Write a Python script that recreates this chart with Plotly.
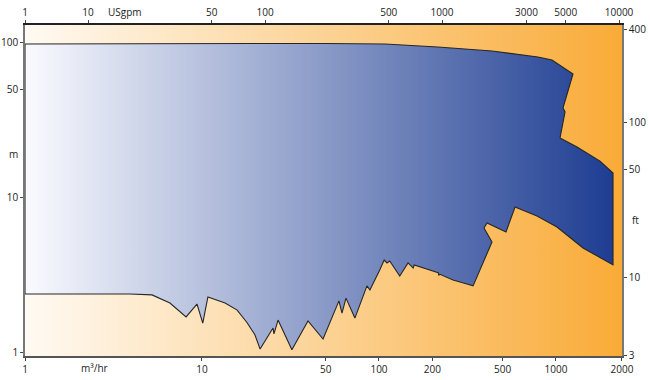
import plotly.graph_objects as go
import math

# ---- data (flow in m³/hr, head in m) ----
flow_upper = [1, 2.65, 9.75, 49.5, 108, 215, 435, 610, 791, 949, 1096, 1248,
              1096, 1125, 1054, 1315, 1774, 2100]
head_upper = [98.6, 98.8, 99.3, 99.3, 98.6, 94.2, 88.8, 84.9, 81.2, 77.6, 70.0, 63.1,
              38.1, 35.9, 24.4, 21.3, 17.3, 14.5]

flow_lower = [1, 3.92, 5.22, 6.59, 8.13, 9.37, 10.1, 10.8, 13.5, 15.8, 17.9, 19.9, 21.3,
              25.2, 25.5, 26.9, 32.2, 39.7, 48.3, 59.4, 61.8, 65.1, 73.1, 85.5, 88.9,
              101, 107, 111, 115, 131, 146, 156, 158, 216, 218, 221, 262, 314, 340,
              435, 392, 408, 522, 587, 781, 1013, 1422, 2100]
head_lower = [2.40, 2.40, 2.37, 2.10, 1.71, 2.07, 1.56, 2.30, 2.10, 1.89, 1.58, 1.31, 1.06,
              1.45, 1.33, 1.63, 1.05, 1.61, 1.23, 2.17, 1.81, 2.26, 1.68, 2.71, 2.55,
              3.43, 3.98, 3.81, 3.92, 3.14, 3.81, 3.53, 3.70, 3.30, 3.18, 3.22, 2.96, 2.79, 2.71,
              5.20, 6.40, 6.90, 6.04, 8.75, 7.65, 6.50, 4.76, 3.70]

x_ticks = [1, 10, 50, 100, 200, 500, 1000]
x_labels = ["1", "10", "50", "100", "200", "500", "1000"]
x_end_label = "2000"
top_ticks = [10, 50, 100, 500, 1000, 3000, 5000, 10000]
top_labels = ["10", "50", "100", "500", "1000", "3000", "5000", "10000"]
top_start_label = "1"
y_ticks = [1, 10, 50, 100]
y_labels = ["1", "10", "50", "100"]
ft_ticks = [10, 50, 100, 400]
ft_labels = ["10", "50", "100", "400"]
ft_end_label = "3"

M3H_TO_GPM = 4.4029
M_TO_FT = 3.28084

# axis ranges (log10)
xr = [0.0, 3.373]
yr = [-0.0194, 2.116]
x2r = [xr[0] + math.log10(M3H_TO_GPM), xr[1] + math.log10(M3H_TO_GPM)]
y2r = [yr[0] + math.log10(M_TO_FT), yr[1] + math.log10(M_TO_FT)]

xmin, xmax = 10 ** xr[0], 10 ** xr[1]
ymin, ymax = 10 ** yr[0], 10 ** yr[1]

font = dict(family="Open Sans, Noto Sans, sans-serif", size=10, color="#222")

fig = go.Figure()

# background gradient (plot area)
fig.add_trace(go.Scatter(
    x=[xmin, xmax, xmax, xmin, xmin], y=[ymin, ymin, ymax, ymax, ymin],
    mode="lines", line=dict(width=0), fill="toself",
    fillgradient=dict(type="horizontal",
                      colorscale=[[0, "#fffaf3"], [1, "#f9ab37"]]),
    hoverinfo="skip", showlegend=False))

# operating envelope
poly_x = flow_upper + flow_lower[::-1] + [flow_upper[0]]
poly_y = head_upper + head_lower[::-1] + [head_upper[0]]
fig.add_trace(go.Scatter(
    x=poly_x, y=poly_y, mode="lines",
    line=dict(color="#262626", width=1.1), fill="toself",
    fillgradient=dict(type="horizontal",
                      colorscale=[[0, "#fafbff"], [1, "#1e3d92"]]),
    showlegend=False))

# invisible trace to anchor the secondary axes
fig.add_trace(go.Scatter(x=[10 ** x2r[0]], y=[10 ** y2r[0]], xaxis="x2", yaxis="y2",
                         mode="markers", marker=dict(opacity=0), showlegend=False,
                         hoverinfo="skip"))

axis_common = dict(type="log", showgrid=False, zeroline=False, ticks="outside",
                   ticklen=3, tickwidth=1, tickcolor="#444", showline=True,
                   linewidth=1.5, tickfont=font, mirror=False, automargin=False)

fig.update_layout(
    width=650, height=380,
    margin=dict(l=25, r=28, t=25, b=24),
    paper_bgcolor="white", plot_bgcolor="white",
    font=font, showlegend=False,
    xaxis=dict(axis_common, range=xr, linecolor="#555",
               tickvals=x_ticks + [10 ** (xr[1] - 0.0005)],
               ticktext=x_labels + [x_end_label]),
    xaxis2=dict(axis_common, range=x2r, overlaying="x", side="top", linecolor="#222",
                tickvals=[10 ** (x2r[0] + 0.0005)] + top_ticks,
                ticktext=[top_start_label] + top_labels, anchor="y"),
    yaxis=dict(axis_common, range=yr, linecolor="#777",
               tickvals=y_ticks, ticktext=y_labels),
    yaxis2=dict(axis_common, range=y2r, overlaying="y", side="right", linecolor="#777",
                tickvals=[10 ** (y2r[0] + 0.0005)] + ft_ticks,
                ticktext=[ft_end_label] + ft_labels, anchor="x"),
)

fig.add_annotation(text="USgpm", xref="paper", yref="paper", x=0.168, y=1.0, yshift=13,
                   xanchor="center", yanchor="middle", showarrow=False, font=font)
fig.add_annotation(text="m³/hr", xref="paper", yref="paper", x=0.117, y=0.0, yshift=-12,
                   xanchor="center", yanchor="middle", showarrow=False, font=font)
fig.add_annotation(text="m", xref="paper", yref="paper", x=0.0, xshift=-12, y=0.61,
                   xanchor="center", yanchor="middle", showarrow=False, font=font)
fig.add_annotation(text="ft", xref="paper", yref="paper", x=1.0, xshift=13, y=0.41,
                   xanchor="center", yanchor="middle", showarrow=False, font=font)

fig.write_html("out.html", config={"displayModeBar": False},
               post_script="document.body.style.margin='0';document.body.style.overflow='hidden';")
